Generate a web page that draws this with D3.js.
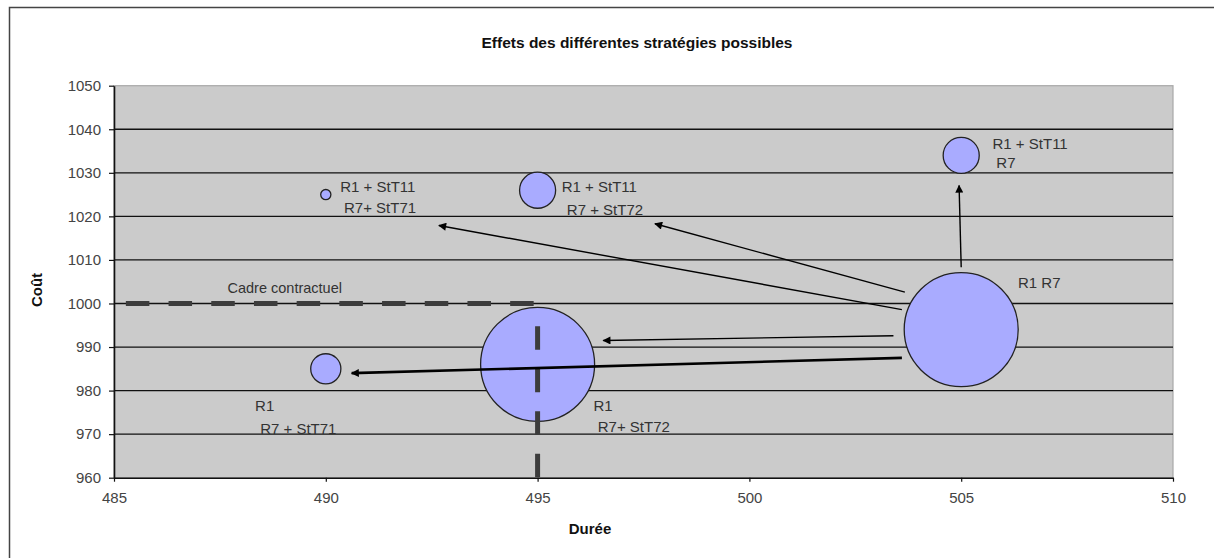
<!DOCTYPE html>
<meta charset="utf-8">
<script src="https://d3js.org/d3.v7.min.js"></script>
<style>
  html, body { margin: 0; background: #fff; overflow: hidden; }
  svg { display: block; }
  text { font-family: "Liberation Sans", Arial, sans-serif; }
</style>
<div id="chart"></div>
<script>

// bubbles: durée, coût, taille
var durees  = [490, 495, 505, 505, 495, 490];
var couts   = [1025, 1026, 1034, 994, 986, 985];
var tailles = [0.8, 10, 10, 100, 100, 7];

// axis ticks
var xTicks = [485, 490, 495, 500, 505, 510];
var yTicks = [960, 970, 980, 990, 1000, 1010, 1020, 1030, 1040, 1050];

// arrows (data coords): from -> to
var arrowFrom = [[505.0, 1008.3], [503.67, 1002.6], [503.6, 998.6], [503.4, 992.6], [503.6, 987.5]];
var arrowTo   = [[504.95, 1027.1], [497.77, 1018.3], [492.67, 1017.9], [496.55, 991.5], [490.61, 984.0]];
var arrowBold = [false, false, false, false, true];

// bubble labels, one entry per line (data coords)
var labelText = ["R1 + StT11", "R7+ StT71", "R1 + StT11", "R7 + StT72", "R1 + StT11", "R7",
                 "R1 R7", "R1", "R7+ StT72", "R1", "R7 + StT71"];
var labelX = [490.34, 490.43, 495.57, 495.69, 505.74, 505.83, 506.34, 496.32, 496.42, 488.33, 488.45];
var labelY = [1025.5, 1020.8, 1025.5, 1020.4, 1035.4, 1031.1, 1003.5, 975.4, 970.4, 975.4, 970.0];

// contractual frame
var cadreH = [[485.28, 1000], [495, 1000]];
var cadreV = [[495, 994.8], [495, 960]];
var cadreLabel = {text: "Cadre contractuel", x: 487.68, y: 1002.4};

var W = 1214, H = 558;
var margin = {top: 85.7, right: 41, bottom: 80.3, left: 114},
    width = W - margin.left - margin.right,
    height = H - margin.top - margin.bottom;

var svgRoot = d3.select("#chart").append("svg")
    .attr("width", W)
    .attr("height", H);

// outer frame (only left and top edges are inside the picture)
svgRoot.append("path")
    .attr("d", "M9.5," + H + "V7.5H" + W)
    .attr("fill", "none")
    .attr("stroke", "#444")
    .attr("stroke-width", 1.5);

var defs = svgRoot.append("defs");
defs.append("marker")
    .attr("id", "head")
    .attr("viewBox", "0 0 10 10")
    .attr("refX", 9).attr("refY", 5)
    .attr("markerUnits", "userSpaceOnUse")
    .attr("markerWidth", 9).attr("markerHeight", 8)
    .attr("orient", "auto")
  .append("path")
    .attr("d", "M0,0 L10,5 L0,10 z")
    .attr("fill", "#000");

var svg = svgRoot.append("g")
    .attr("transform", "translate(" + margin.left + "," + margin.top + ")");

var x = d3.scaleLinear().domain([485, 510]).range([0, width]);
var y = d3.scaleLinear().domain([960, 1050]).range([height, 0]);
var r = d3.scaleSqrt().domain([0, 100]).range([0, 57]);

// plot area
svg.append("rect")
    .attr("width", width).attr("height", height)
    .attr("fill", "#cbcbcb")
    .attr("stroke", "#a8a8a8")
    .attr("stroke-width", 1.2);

// gridlines
svg.selectAll(".grid")
  .data(yTicks.filter(function(d) { return d > 960 && d < 1050; }))
  .enter().append("line")
    .attr("x1", 0).attr("x2", width)
    .attr("y1", function(d) { return y(d); })
    .attr("y2", function(d) { return y(d); })
    .attr("stroke", "#111")
    .attr("stroke-width", 1.3);

// axes
var yAxis = svg.append("g")
    .call(d3.axisLeft(y).tickValues(yTicks).tickFormat(d3.format("d"))
      .tickSize(5).tickSizeOuter(0).tickPadding(8));
var xAxis = svg.append("g")
    .attr("transform", "translate(0," + height + ")")
    .call(d3.axisBottom(x).tickValues(xTicks).tickFormat(d3.format("d"))
      .tickSize(4).tickSizeOuter(0).tickPadding(11));
[xAxis, yAxis].forEach(function(a) {
  a.select(".domain").attr("stroke", "#111").attr("stroke-width", 1.6);
  a.selectAll(".tick line").attr("stroke", "#111").attr("stroke-width", 1.2);
  a.selectAll(".tick text")
    .attr("fill", "#444")
    .style("font-size", "15px")
    .style("font-family", "'Liberation Sans', Arial, sans-serif");
});

// contractual frame (dashed)
var line = d3.line()
    .x(function(d) { return x(d[0]); })
    .y(function(d) { return y(d[1]); });

svg.append("path")
    .attr("d", line(cadreH))
    .attr("fill", "none")
    .attr("stroke", "#3c3c3c")
    .attr("stroke-width", 5)
    .attr("stroke-dasharray", "23.5,19.2");

// bubbles
svg.selectAll(".bubble")
  .data(durees)
  .enter().append("circle")
    .attr("cx", function(d) { return x(d); })
    .attr("cy", function(d, i) { return y(couts[i]); })
    .attr("r", function(d, i) { return r(tailles[i]); })
    .attr("fill", "#a9abff")
    .attr("stroke", "#222")
    .attr("stroke-width", 1.3);

svg.append("path")
    .attr("d", line(cadreV))
    .attr("fill", "none")
    .attr("stroke", "#3c3c3c")
    .attr("stroke-width", 5)
    .attr("stroke-dasharray", "23.5,19");

// arrows
svg.selectAll(".arrow")
  .data(arrowFrom)
  .enter().append("line")
    .attr("x1", function(d) { return x(d[0]); })
    .attr("y1", function(d) { return y(d[1]); })
    .attr("x2", function(d, i) { return x(arrowTo[i][0]); })
    .attr("y2", function(d, i) { return y(arrowTo[i][1]); })
    .attr("stroke", "#000")
    .attr("stroke-width", function(d, i) { return arrowBold[i] ? 2.6 : 1.4; })
    .attr("marker-end", "url(#head)");

// labels
svg.selectAll(".lbl")
  .data(labelText)
  .enter().append("text")
    .attr("x", function(d, i) { return x(labelX[i]); })
    .attr("y", function(d, i) { return y(labelY[i]); })
    .attr("fill", "#333")
    .style("font-size", "15px")
    .text(function(d) { return d; });

svg.append("text")
    .attr("x", x(cadreLabel.x))
    .attr("y", y(cadreLabel.y))
    .attr("fill", "#333")
    .style("font-size", "14.5px")
    .text(cadreLabel.text);

// titles
svgRoot.append("text")
    .attr("x", 637).attr("y", 48)
    .attr("text-anchor", "middle")
    .attr("fill", "#111")
    .style("font-size", "15.5px")
    .style("font-weight", "bold")
    .text("Effets des différentes stratégies possibles");

svgRoot.append("text")
    .attr("x", 590).attr("y", 534)
    .attr("text-anchor", "middle")
    .attr("fill", "#111")
    .style("font-size", "15px")
    .style("font-weight", "bold")
    .text("Durée");

svgRoot.append("text")
    .attr("transform", "translate(41.5,290) rotate(-90)")
    .attr("text-anchor", "middle")
    .attr("fill", "#111")
    .style("font-size", "15px")
    .style("font-weight", "bold")
    .text("Coût");

</script>
